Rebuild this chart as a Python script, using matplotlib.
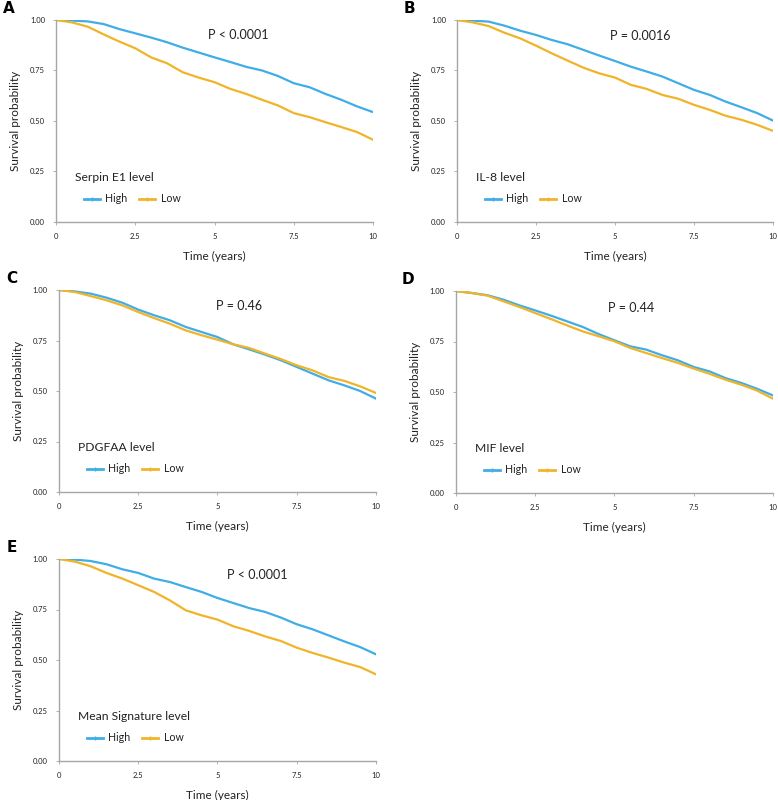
"""
Kaplan-Meier style survival curves, high vs low biomarker level (5 panels).
Saves: out.png
"""

import matplotlib
matplotlib.use("Agg")
import matplotlib.pyplot as plt
from matplotlib.lines import Line2D

plt.rcParams["font.family"] = ["Lato", "DejaVu Sans"]

# -----------------------------------------------------------------------
# Data (every 0.5 years)
# -----------------------------------------------------------------------
TIME = [0, 0.5, 1, 1.5, 2, 2.5, 3, 3.5, 4, 4.5, 5,
        5.5, 6, 6.5, 7, 7.5, 8, 8.5, 9, 9.5, 10]

serpin_high = [1.00, 0.997, 0.993, 0.980, 0.955, 0.934, 0.913, 0.890, 0.863, 0.839, 0.815,
               0.792, 0.768, 0.750, 0.723, 0.687, 0.667, 0.634, 0.605, 0.572, 0.544]
serpin_low = [1.00, 0.988, 0.967, 0.929, 0.893, 0.860, 0.815, 0.786, 0.741, 0.715, 0.692,
              0.659, 0.634, 0.605, 0.577, 0.539, 0.519, 0.494, 0.470, 0.445, 0.407]

il8_high = [1.00, 0.997, 0.992, 0.972, 0.947, 0.926, 0.901, 0.880, 0.852, 0.824, 0.797,
            0.769, 0.745, 0.720, 0.687, 0.654, 0.629, 0.596, 0.568, 0.539, 0.502]
il8_low = [1.00, 0.988, 0.970, 0.937, 0.909, 0.873, 0.835, 0.799, 0.764, 0.736, 0.715,
           0.679, 0.659, 0.629, 0.610, 0.580, 0.555, 0.526, 0.506, 0.481, 0.451]

pdgfaa_high = [1.00, 0.993, 0.982, 0.962, 0.937, 0.903, 0.875, 0.850, 0.817, 0.792, 0.767,
               0.731, 0.706, 0.680, 0.652, 0.619, 0.586, 0.553, 0.528, 0.500, 0.462]
pdgfaa_low = [1.00, 0.990, 0.970, 0.949, 0.924, 0.891, 0.861, 0.833, 0.800, 0.776, 0.754,
              0.731, 0.713, 0.685, 0.658, 0.627, 0.602, 0.569, 0.550, 0.523, 0.490]

mif_high = [1.00, 0.990, 0.979, 0.957, 0.929, 0.904, 0.878, 0.850, 0.822, 0.787, 0.756,
            0.726, 0.710, 0.682, 0.657, 0.624, 0.602, 0.569, 0.545, 0.516, 0.483]
mif_low = [1.00, 0.990, 0.977, 0.949, 0.921, 0.891, 0.861, 0.830, 0.800, 0.776, 0.751,
           0.718, 0.693, 0.668, 0.644, 0.616, 0.590, 0.561, 0.536, 0.507, 0.467]

mean_high = [1.00, 0.997, 0.990, 0.974, 0.949, 0.931, 0.903, 0.886, 0.861, 0.837, 0.807,
             0.782, 0.757, 0.738, 0.710, 0.677, 0.652, 0.622, 0.592, 0.564, 0.528]
mean_low = [1.00, 0.987, 0.964, 0.931, 0.903, 0.870, 0.837, 0.795, 0.746, 0.721, 0.700,
            0.667, 0.644, 0.617, 0.594, 0.561, 0.535, 0.512, 0.487, 0.465, 0.429]

LETTERS = ["A", "B", "C", "D", "E"]
MARKERS = ["Serpin E1", "IL-8", "PDGFAA", "MIF", "Mean Signature"]
P_TEXT = ["P < 0.0001", "P = 0.0016", "P = 0.46", "P = 0.44", "P < 0.0001"]
HIGH = [serpin_high, il8_high, pdgfaa_high, mif_high, mean_high]
LOW = [serpin_low, il8_low, pdgfaa_low, mif_low, mean_low]

X_TICKS = [0, 2.5, 5, 7.5, 10]
X_TICKLABELS = ["0", "2.5", "5", "7.5", "10"]
Y_TICKS = [0, 0.25, 0.5, 0.75, 1.0]
Y_TICKLABELS = ["0.00", "0.25", "0.50", "0.75", "1.00"]

C_HIGH = "#41ade6"
C_LOW = "#f0b429"
SPINE = "#a6a6a6"
TXT = "#222222"

# axes rectangles [left, bottom, width, height] in figure fraction
RECTS = [
    [0.072, 0.7225, 0.4075, 0.2525],
    [0.5874, 0.7225, 0.4062, 0.2525],
    [0.0758, 0.385, 0.4075, 0.2525],
    [0.586, 0.38375, 0.4075, 0.2525],
    [0.0758, 0.04875, 0.4075, 0.2525],
]
P_POS = [(4.8, 0.925), (4.85, 0.92), (4.95, 0.92), (4.8, 0.915), (5.3, 0.92)]

# -----------------------------------------------------------------------
# Plot
# -----------------------------------------------------------------------
fig = plt.figure(figsize=(7.78, 8.0), dpi=100)

for i in range(5):
    ax = fig.add_axes(RECTS[i])
    ax.plot(TIME, HIGH[i], color=C_HIGH, linewidth=1.6)
    ax.plot(TIME, LOW[i], color=C_LOW, linewidth=1.6)

    ax.set_xlim(0, 10)
    ax.set_ylim(0, 1.0)
    ax.set_xticks(X_TICKS)
    ax.set_xticklabels(X_TICKLABELS)
    ax.set_yticks(Y_TICKS)
    ax.set_yticklabels(Y_TICKLABELS)
    ax.tick_params(axis="both", labelsize=5.5, length=2, width=0.6,
                   color=SPINE, labelcolor=TXT, pad=6)
    for side in ("top", "right"):
        ax.spines[side].set_visible(False)
    for side in ("left", "bottom"):
        ax.spines[side].set_color(SPINE)
        ax.spines[side].set_linewidth(1.0)

    ax.set_xlabel("Time (years)", fontsize=8.5, color=TXT)
    ax.xaxis.set_label_coords(0.5, -0.145)
    ax.set_ylabel("Survival probability", fontsize=8.5, color=TXT)
    ax.yaxis.set_label_coords(-0.11, 0.5)

    ax.text(P_POS[i][0], P_POS[i][1], P_TEXT[i], fontsize=9, va="center", color=TXT)

    # legend: title as text, entries as a two-column legend
    ax.text(0.06, 0.218, f"{MARKERS[i]} level", transform=ax.transAxes,
            fontsize=8.7, va="center", color=TXT)
    handles = [
        Line2D([], [], color=C_HIGH, linewidth=2, marker="|", markersize=3.5),
        Line2D([], [], color=C_LOW, linewidth=2, marker="|", markersize=3.5),
    ]
    ax.legend(handles, ["High", "Low"], loc="center left",
              bbox_to_anchor=(0.088, 0.114), ncol=2, frameon=False,
              fontsize=7.7, handlelength=1.5, handletextpad=0.5,
              columnspacing=1.1, borderpad=0.0, borderaxespad=0.0,
              labelcolor=TXT)

    ax.text(-0.15, 1.055, LETTERS[i], transform=ax.transAxes,
            fontsize=11, fontweight="bold", family="DejaVu Sans",
            va="center", ha="center")

plt.savefig("out.png", dpi=100)
plt.close()
